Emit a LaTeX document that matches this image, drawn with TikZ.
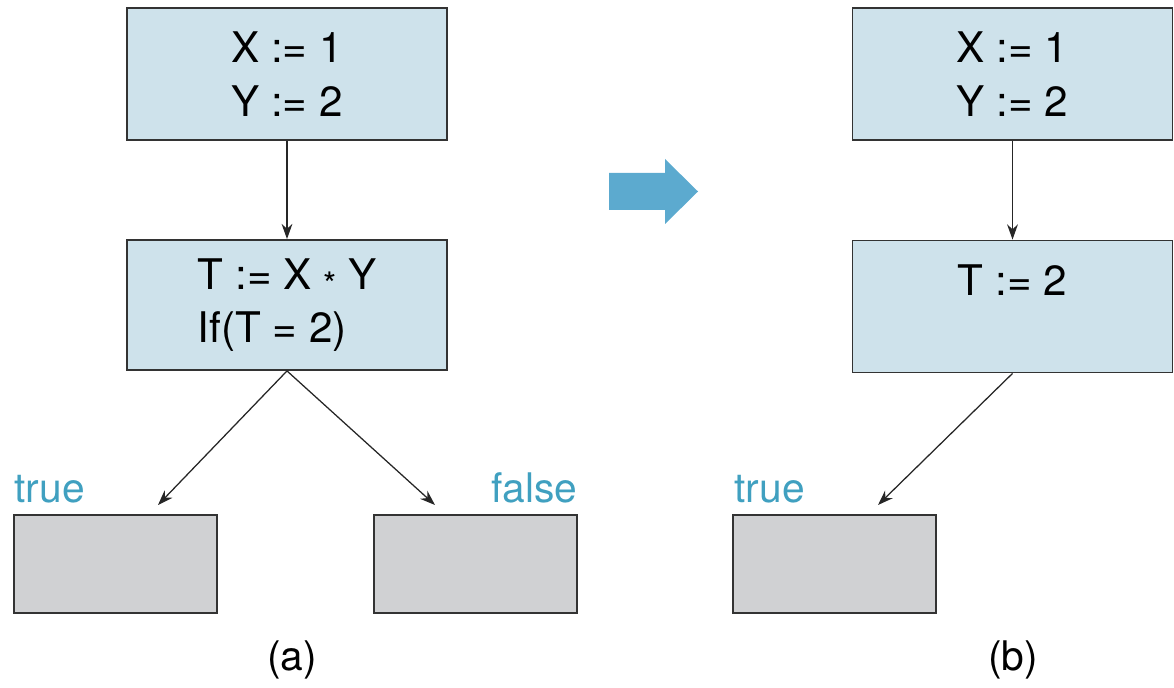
\documentclass[tikz,border=0pt]{standalone}
\usepackage{fontspec}
\setmainfont{TeX Gyre Heros}
\usetikzlibrary{arrows.meta,calc}
\definecolor{boxblue}{RGB}{206,226,235}
\definecolor{boxgray}{RGB}{208,209,211}
\definecolor{lblblue}{RGB}{64,160,192}
\definecolor{bigblue}{RGB}{92,170,207}
\newcommand{\lowstar}{\raisebox{-0.35ex}{\scalebox{0.8}{*}}}

\begin{document}
\begin{tikzpicture}[x=0.025cm, y=-0.025cm,
  codebox/.style={draw=black!80, line width=1.3pt, fill=boxblue, minimum width=8cm,
    align=left, font=\fontsize{30}{38}\selectfont},
  endbox/.style={draw=black!80, line width=1.3pt, fill=boxgray, minimum width=5.07cm, minimum height=2.45cm},
  lbl/.style={text=lblblue, font=\fontsize{29}{34}\selectfont, inner sep=0pt},
  flow/.style={-{Stealth[length=3.8mm,width=2.7mm]}, line width=0.9pt, black!85}]
  \useasboundingbox (0,0) rectangle (1174,688);

  % (a): the blocks before the change
  \node[codebox, minimum height=3.3cm] (atop) at (287,74) {X := 1\\Y := 2};
  \node[codebox, minimum height=3.25cm] (amid) at (287,305) {T := X \lowstar{} Y\\If(T = 2)};
  \node[endbox] (atrue) at (115.5,564) {};
  \node[endbox] (afalse) at (475.5,564) {};
  \node[lbl, anchor=base west] (atruelbl) at ($(atrue.north west)+(1,-12)$) {true};
  \node[lbl, anchor=base east] (afalselbl) at ($(afalse.north east)+(0,-12)$) {false};
  \coordinate (atruetip) at (158,505);
  \coordinate (afalsetip) at (435,505);
  \draw[flow] (atop) -- (amid);
  \draw[flow] (amid.south) -- (atruetip);
  \draw[flow] (amid.south) -- (afalsetip);
  \node[font=\fontsize{29}{34}\selectfont] (capa) at (292,660) {(a)};

  % Big arrow in the middle
  \fill[bigblue] (609,173) -- (665,173) -- (665,159) -- (698,191.5)
    -- (665,224) -- (665,210) -- (609,210) -- cycle;

  % (b): the blocks after the change
  \node[codebox, minimum height=3.3cm] (btop) at (1012.5,74) {X := 1\\Y := 2};
  \node[codebox, minimum height=3.3cm] (bmid) at (1012.5,306.5) {T := 2\\\mbox{}};
  \node[endbox] (btrue) at (834.5,564) {};
  \node[lbl, anchor=base west] (btruelbl) at ($(btrue.north west)+(2,-12)$) {true};
  \coordinate (btruetip) at (878,505);
  \draw[flow] (btop) -- (bmid);
  \draw[flow] (bmid.south) -- (btruetip);
  \node[font=\fontsize{29}{34}\selectfont] (capb) at (1013,660) {(b)};

\end{tikzpicture}
\end{document}
